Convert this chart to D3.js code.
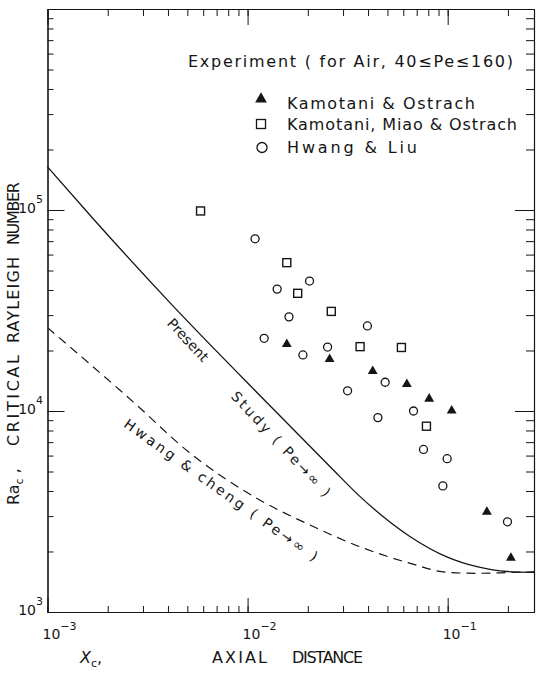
<!DOCTYPE html>
<html>
<head>
<meta charset="utf-8">
<script src="https://cdn.jsdelivr.net/npm/d3@7"></script>
<style>
  body { margin: 0; background: #fff; }
  text { font-family: "DejaVu Sans", sans-serif; fill: #151515; }
</style>
</head>
<body>
<svg id="chart" width="537" height="676"></svg>
<script>
// values (log-log)
var kamotaniOstrachX = [0.0157, 0.0257, 0.0422, 0.0625, 0.0808, 0.1047, 0.157, 0.207];
var kamotaniOstrachY = [21500, 18100, 15800, 13600, 11500, 10030, 3150, 1860];

var kamotaniMiaoX = [0.00582, 0.0157, 0.0178, 0.0262, 0.0365, 0.0587, 0.0783];
var kamotaniMiaoY = [98900, 54700, 38500, 31300, 20900, 20700, 8400];

var hwangLiuX = [0.0109, 0.0204, 0.01405, 0.0161, 0.0397, 0.0121, 0.0251, 0.0189,
                 0.0487, 0.0316, 0.0675, 0.0448, 0.0757, 0.0994, 0.0946, 0.199];
var hwangLiuY = [71900, 44300, 40400, 29400, 26500, 23000, 20800, 19000,
                 13900, 12600, 10000, 9270, 6440, 5790, 4240, 2810];

var presentX = [0.001, 0.0017, 0.0041, 0.0125, 0.026, 0.0365, 0.065, 0.099, 0.14, 0.198, 0.27];
var presentY = [164000, 90000, 34500, 11000, 5250, 3750, 2370, 1880, 1680, 1590, 1576];

var hwangChengX = [0.001, 0.00268, 0.00516, 0.01155, 0.0205, 0.0365, 0.065, 0.099, 0.14, 0.198, 0.27];
var hwangChengY = [26000, 11100, 6170, 3600, 2710, 2110, 1746, 1576, 1558, 1570, 1586];

var xTickValues = [1e-3, 1e-2, 1e-1];
var xTickExp = ["\u22123", "\u22122", "\u22121"];
var yTickValues = [1e3, 1e4, 1e5];
var yTickExp = ["3", "4", "5"];

var legendNames = ["Kamotani & Ostrach", "Kamotani, Miao & Ostrach", "Hwang & Liu"];

var svg = d3.select("#chart"),
    plot = {left: 47.5, right: 534, top: 9, bottom: 612};

var x = d3.scaleLog().domain([1e-3, 0.27]).range([plot.left, plot.right]);
var y = d3.scaleLog().domain([1e3, 1e6]).range([plot.bottom, plot.top]);

var ink = "#151515";

// frame + inward ticks, minor ones first then the long decade ones
function frameAxis(axisFn, scale, transform, minorLen, majorLen, majors) {
  svg.append("g")
      .attr("transform", transform)
      .attr("color", ink)
      .call(axisFn(scale).tickValues(scale.ticks()).tickSize(-minorLen).tickSizeOuter(0).tickFormat(""));
  svg.append("g")
      .attr("transform", transform)
      .attr("color", ink)
      .call(axisFn(scale).tickValues(majors).tickSize(-majorLen).tickSizeOuter(0).tickFormat(""));
}

frameAxis(d3.axisBottom, x, "translate(0," + plot.bottom + ")", 6, 14, xTickValues);
frameAxis(d3.axisTop, x, "translate(0," + plot.top + ")", 7, 16, xTickValues);
frameAxis(d3.axisLeft, y, "translate(" + plot.left + ",0)", 6, 17, yTickValues);
frameAxis(d3.axisRight, y, "translate(" + plot.right + ",0)", 8, 19, yTickValues);

svg.selectAll(".domain").attr("stroke-width", 1.1);

// tick labels with superscript exponents
xTickValues.forEach(function(v, i) {
  var t = svg.append("text")
      .attr("x", x(v) - 5)
      .attr("y", 639)
      .style("font-size", "14px");
  t.append("tspan").text("10");
  t.append("tspan").attr("dy", -9).style("font-size", "11px").text(xTickExp[i]);
});

yTickValues.forEach(function(v, i) {
  var t = svg.append("text")
      .attr("x", 43)
      .attr("y", y(v) + 3)
      .attr("text-anchor", "end")
      .style("font-size", "14px");
  t.append("tspan").text("10");
  t.append("tspan").attr("dy", -10).style("font-size", "11px").text(yTickExp[i]);
});

// axis titles
var xt = svg.append("text").attr("x", 80).attr("y", 663).style("font-size", "16px");
xt.append("tspan").style("font-style", "italic").text("X");
xt.append("tspan").attr("dy", 4).style("font-size", "11px").text("c");
xt.append("tspan").attr("dy", -4).text(",");

svg.append("text").attr("x", 212).attr("y", 663).style("font-size", "16px")
    .attr("textLength", 55).attr("lengthAdjust", "spacing").text("AXIAL");
svg.append("text").attr("x", 292).attr("y", 663).style("font-size", "16px")
    .attr("textLength", 71).attr("lengthAdjust", "spacing").text("DISTANCE");

var yt = svg.append("text").attr("transform", "translate(19,505) rotate(-90)").style("font-size", "16px");
yt.append("tspan").text("Ra");
yt.append("tspan").attr("dy", 4).style("font-size", "11px").text("c");
yt.append("tspan").attr("dy", -4).text(" ,");

[["CRITICAL", 446, 91], ["RAYLEIGH", 343, 86], ["NUMBER", 245, 63]].forEach(function(w) {
  svg.append("text")
      .attr("transform", "translate(19," + w[1] + ") rotate(-90)")
      .style("font-size", "16px")
      .attr("textLength", w[2]).attr("lengthAdjust", "spacing")
      .text(w[0]);
});

// curves
function pairs(xs, ys) { return xs.map(function(d, i) { return [d, ys[i]]; }); }

var line = d3.line()
    .x(function(d) { return x(d[0]); })
    .y(function(d) { return y(d[1]); })
    .curve(d3.curveMonotoneX);

svg.append("path")
    .datum(pairs(presentX, presentY))
    .attr("d", line)
    .attr("fill", "none")
    .attr("stroke", ink)
    .attr("stroke-width", 1.3);

svg.append("path")
    .datum(pairs(hwangChengX, hwangChengY))
    .attr("d", line)
    .attr("fill", "none")
    .attr("stroke", ink)
    .attr("stroke-width", 1.2)
    .attr("stroke-dasharray", "9,6");

// curve labels
function slanted(txt, cx, cy, angle, len) {
  svg.append("text")
      .attr("transform", "translate(" + cx + "," + cy + ") rotate(" + angle + ")")
      .attr("text-anchor", "middle")
      .attr("dominant-baseline", "central")
      .attr("textLength", len)
      .attr("lengthAdjust", "spacing")
      .style("font-size", "14px")
      .text(txt);
}
slanted("Present", 188, 340, 47, 53);
slanted("Study ( Pe\u2192\u221e )", 281, 444, 47, 138);
slanted("Hwang & cheng ( Pe\u2192\u221e )", 221, 490, 35.5, 234);

// experimental points
var tri = d3.symbol().type(d3.symbolTriangle).size(42);

svg.append("g").selectAll("path")
    .data(pairs(kamotaniOstrachX, kamotaniOstrachY))
    .enter().append("path")
    .attr("transform", function(d) { return "translate(" + x(d[0]) + "," + y(d[1]) + ")"; })
    .attr("d", tri)
    .attr("fill", ink);

svg.append("g").selectAll("rect")
    .data(pairs(kamotaniMiaoX, kamotaniMiaoY))
    .enter().append("rect")
    .attr("x", function(d) { return x(d[0]) - 4; })
    .attr("y", function(d) { return y(d[1]) - 4; })
    .attr("width", 8)
    .attr("height", 8)
    .attr("fill", "none")
    .attr("stroke", ink)
    .attr("stroke-width", 1.4);

svg.append("g").selectAll("circle")
    .data(pairs(hwangLiuX, hwangLiuY))
    .enter().append("circle")
    .attr("cx", function(d) { return x(d[0]); })
    .attr("cy", function(d) { return y(d[1]); })
    .attr("r", 4)
    .attr("fill", "none")
    .attr("stroke", ink)
    .attr("stroke-width", 1.3);

// legend
svg.append("text").attr("x", 188).attr("y", 67).style("font-size", "16px")
    .attr("textLength", 325).attr("lengthAdjust", "spacing")
    .text("Experiment ( for Air, 40\u2264Pe\u2264160)");

var legendY = [109, 130, 153],
    legendLen = [188, 230, 130];

svg.append("path")
    .attr("transform", "translate(261,99)")
    .attr("d", d3.symbol().type(d3.symbolTriangle).size(60))
    .attr("fill", ink);
svg.append("rect").attr("x", 256.5).attr("y", 119.5).attr("width", 9).attr("height", 9)
    .attr("fill", "none").attr("stroke", ink).attr("stroke-width", 1.3);
svg.append("circle").attr("cx", 262).attr("cy", 147.5).attr("r", 5)
    .attr("fill", "none").attr("stroke", ink).attr("stroke-width", 1.3);

legendNames.forEach(function(n, i) {
  svg.append("text")
      .attr("x", 287)
      .attr("y", legendY[i])
      .style("font-size", "16px")
      .attr("textLength", legendLen[i])
      .attr("lengthAdjust", "spacing")
      .text(n);
});
</script>
</body>
</html>
